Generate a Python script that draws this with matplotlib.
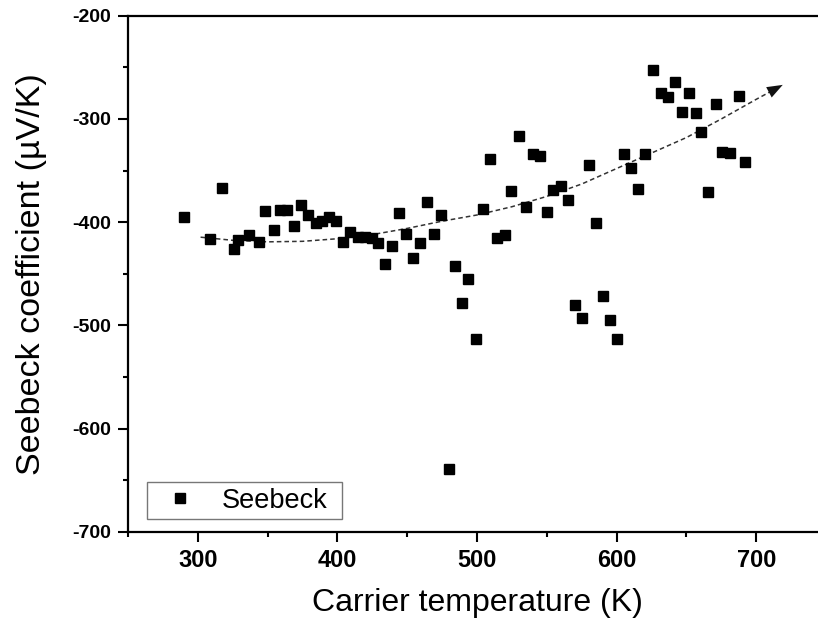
import matplotlib
matplotlib.use("Agg")
import matplotlib.pyplot as plt
from matplotlib.ticker import MultipleLocator

plt.rcParams['font.family'] = ['Liberation Sans', 'DejaVu Sans']
plt.rcParams['axes.unicode_minus'] = False

# Data
temperature = [290.2, 308.6, 317, 326, 329, 337, 344, 348, 354.5, 359, 364, 369, 374, 379,
               384.6, 389, 394, 399, 404, 409, 414.5, 420, 424.5, 429, 434, 439, 444, 449,
               454.4, 459.5, 464, 469.5, 474.5, 479.8, 484.5, 489.5, 493.5, 499.3, 504.4,
               509.4, 514.6, 520, 524.7, 529.8, 535, 540, 545, 549.8, 554.6, 560, 565,
               569.9, 575, 580, 585.6, 590.2, 595.2, 600.5, 605.3, 610.3, 615.3, 620.6,
               626.2, 631.6, 636.8, 641.7, 647, 651.8, 656.8, 660.7, 665.5, 671, 675.8,
               681, 687.7, 692.3]
seebeck = [-395, -416.5, -367, -426, -417, -412, -419, -389, -407.5, -388, -388, -404, -383,
           -393, -401, -399, -394.6, -398.5, -419, -409.7, -414.5, -414.5, -415.5, -419.7,
           -440.7, -423, -391, -411.6, -435, -420, -380, -411.6, -393, -639, -442, -478.4,
           -455, -512.7, -386.8, -338.7, -415.2, -412, -369.4, -316.5, -385.2, -334, -336,
           -389.7, -368.4, -364.6, -378.4, -479.8, -493, -345, -400.4, -471, -495, -513.3,
           -333.6, -347.4, -367.8, -333.6, -252.6, -274.5, -278.4, -264.5, -293.5, -275,
           -294.5, -312.3, -371, -285.5, -332.3, -333, -277.4, -342]

# Dashed trend curve, ending in an arrow tip
trend_x = [302, 325, 350, 375, 400, 425, 450, 475, 500, 525, 550, 575, 600, 625, 650, 675, 700, 719]
trend_y = [-414.5, -417.5, -419, -418.5, -416, -412, -406, -399, -393, -385, -375, -363, -348,
           -333, -318, -300, -281, -267]

x_ticks = [300, 400, 500, 600, 700]
y_ticks = [-700, -600, -500, -400, -300, -200]

fig = plt.figure(figsize=(8.18, 6.34), dpi=100)
ax = fig.add_axes([128 / 818, (634 - 532) / 634, (826 - 128) / 818, (532 - 15.7) / 634])

ax.plot(trend_x[:-1] + [trend_x[-1] - 4], trend_y[:-1] + [trend_y[-1] - 3],
        color='#333333', lw=1.1, dashes=(3, 2), zorder=2)
ax.annotate('', xy=(trend_x[-1], trend_y[-1]), xytext=(trend_x[-2] + 8, trend_y[-2] + 6),
            arrowprops=dict(arrowstyle='-|>,head_length=0.75,head_width=0.28', color='#111111',
                            lw=0.01, mutation_scale=15, shrinkA=0, shrinkB=0),
            zorder=2)

ax.plot(temperature, seebeck, linestyle='none', marker='s', ms=6.8, color='black',
        label='Seebeck', zorder=3)

ax.set_xlim(250, 750)
ax.set_ylim(-700, -200)
ax.set_xticks(x_ticks)
ax.set_yticks(y_ticks)
ax.xaxis.set_minor_locator(MultipleLocator(50))
ax.yaxis.set_minor_locator(MultipleLocator(50))

ax.tick_params(axis='both', which='major', direction='out', length=7, width=1.5)
ax.tick_params(axis='both', which='minor', direction='out', length=3.6, width=1.5)
ax.tick_params(axis='x', which='major', labelsize=17, pad=5)
ax.tick_params(axis='y', which='major', labelsize=14, pad=5)
for lab in ax.get_xticklabels() + ax.get_yticklabels():
    lab.set_fontweight('bold')

for s in ax.spines.values():
    s.set_linewidth(1.6)

ax.set_xlabel('Carrier temperature (K)', fontsize=23, labelpad=12)
ax.set_ylabel('Seebeck coefficient (µV/K)', fontsize=24.5, labelpad=18)

leg = ax.legend(loc='lower left',
                bbox_to_anchor=((148 - 129) / 697, (532 - 519) / 516.3, 195 / 697, 36 / 516.3),
                mode='expand', borderaxespad=0, fontsize=19.5, frameon=True, fancybox=False,
                handlelength=2.0, handletextpad=0.55, borderpad=0.2, markerscale=1.0)
leg.get_frame().set_edgecolor('#555555')
leg.get_frame().set_linewidth(1.0)

fig.savefig('out.png', dpi=100)
